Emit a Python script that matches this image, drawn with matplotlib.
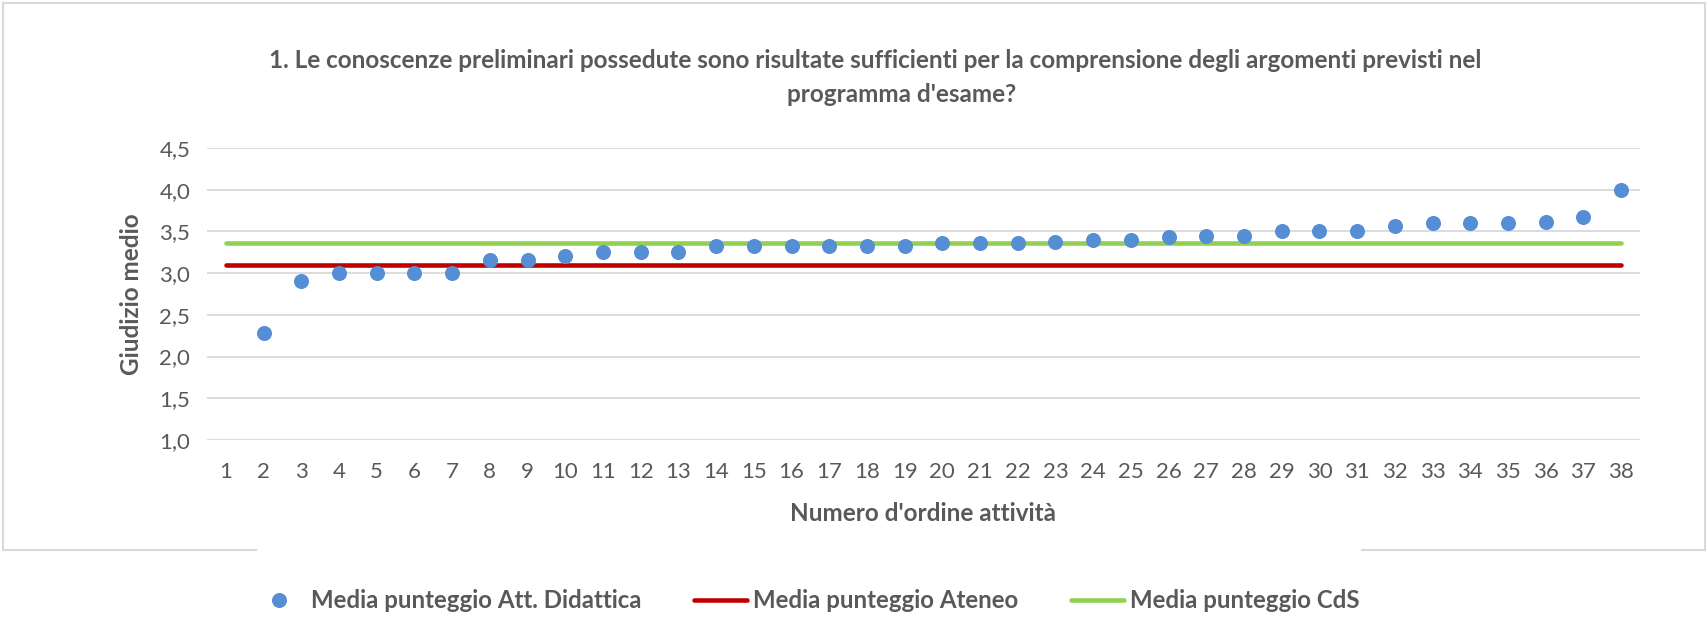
import matplotlib
matplotlib.use("Agg")
import matplotlib.pyplot as plt
from matplotlib.lines import Line2D

# ---- data ----
activity_numbers = list(range(1, 39))
att_didattica = [None, 2.28, 2.90, 3.00, 3.00, 3.00, 3.00, 3.16, 3.16, 3.20,
                 3.25, 3.25, 3.25, 3.32, 3.32, 3.33, 3.33, 3.33, 3.33, 3.36,
                 3.36, 3.36, 3.37, 3.40, 3.40, 3.43, 3.44, 3.44, 3.50, 3.50,
                 3.50, 3.57, 3.60, 3.60, 3.60, 3.61, 3.67, 4.00]
media_ateneo = 3.10
media_cds = 3.36
y_ticks = [1.0, 1.5, 2.0, 2.5, 3.0, 3.5, 4.0, 4.5]
y_tick_labels = ["1,0", "1,5", "2,0", "2,5", "3,0", "3,5", "4,0", "4,5"]
title_lines = ["1. Le conoscenze preliminari possedute sono risultate sufficienti per la comprensione degli argomenti previsti nel",
               "programma d'esame?"]
x_label = "Numero d'ordine attività"
y_label = "Giudizio medio"
legend_labels = ["Media punteggio Att. Didattica", "Media punteggio Ateneo", "Media punteggio CdS"]

# ---- style ----
plt.rcParams['font.family'] = ['Lato', 'DejaVu Sans']
TXT = '#595959'
BLUE = '#558ed5'
RED = '#c00000'
GREEN = '#92d050'
GRID = '#d9d9d9'

W, H = 1708, 620
fig = plt.figure(figsize=(W / 100, H / 100), dpi=100)
fig.patch.set_facecolor('white')

def fx(px):
    return px / W

def fy(py):
    return 1 - py / H

ax = fig.add_axes([fx(207), fy(440), fx(1640) - fx(207), fy(148) - fy(440)])

xs = [x for x, v in zip(activity_numbers, att_didattica) if v is not None]
ys = [v for v in att_didattica if v is not None]

ax.plot([activity_numbers[0], activity_numbers[-1]], [media_ateneo] * 2, color=RED,
        lw=3.3, solid_capstyle='round', zorder=2, label=legend_labels[1])
ax.plot([activity_numbers[0], activity_numbers[-1]], [media_cds] * 2, color=GREEN,
        lw=3.3, solid_capstyle='round', zorder=2, label=legend_labels[2])
ax.plot(xs, ys, linestyle='none', marker='o', ms=9.8, color=BLUE, mec=BLUE,
        zorder=3, label=legend_labels[0])

ax.set_xlim(0.5, 38.5)
ax.set_ylim(1.0, 4.5)
ax.set_yticks(y_ticks)
ax.set_yticklabels(y_tick_labels)
ax.set_xticks(activity_numbers)
ax.set_xticklabels([str(n) for n in activity_numbers])
ax.tick_params(axis='both', length=0, labelsize=16, labelcolor=TXT)
ax.tick_params(axis='x', pad=16)
ax.tick_params(axis='y', pad=12)
for s in ax.spines.values():
    s.set_visible(False)
ax.grid(axis='y', color=GRID, lw=1.3, zorder=0)
ax.set_axisbelow(True)

ax.set_xlabel(x_label, fontsize=17.5, fontweight='bold', color=TXT, labelpad=14)
ax.set_ylabel(y_label, fontsize=17.5, fontweight='bold', color=TXT, labelpad=12)

fig.text(fx(875), fy(60), title_lines[0], ha='center', va='center', fontsize=17.5,
         fontweight='bold', color=TXT)
fig.text(fx(902), fy(95), title_lines[1], ha='center', va='center', fontsize=17.5,
         fontweight='bold', color=TXT)

# frame border (with gap at bottom as in the reference)
bx0, by0, bx1, by1 = 3, 3, 1705, 550
for (x0, y0, x1, y1) in [(bx0, by0, bx1, by0), (bx0, by0, bx0, by1), (bx1, by0, bx1, by1),
                         (bx0, by1, 256, by1), (1362, by1, bx1, by1)]:
    fig.add_artist(Line2D([fx(x0), fx(x1)], [fy(y0), fy(y1)], transform=fig.transFigure,
                          color=GRID, lw=1.5))

h, l = ax.get_legend_handles_labels()
order = [2, 0, 1]
leg = fig.legend([h[i] for i in order], [l[i] for i in order], loc='center',
                 bbox_to_anchor=(fx(806), fy(601)), ncol=3, frameon=False,
                 fontsize=17.3, handlelength=2.2, handletextpad=0.25, columnspacing=2.2)
for t in leg.get_texts():
    t.set_color(TXT)
    t.set_fontweight('bold')

fig.savefig('out.png', dpi=100, facecolor='white')
